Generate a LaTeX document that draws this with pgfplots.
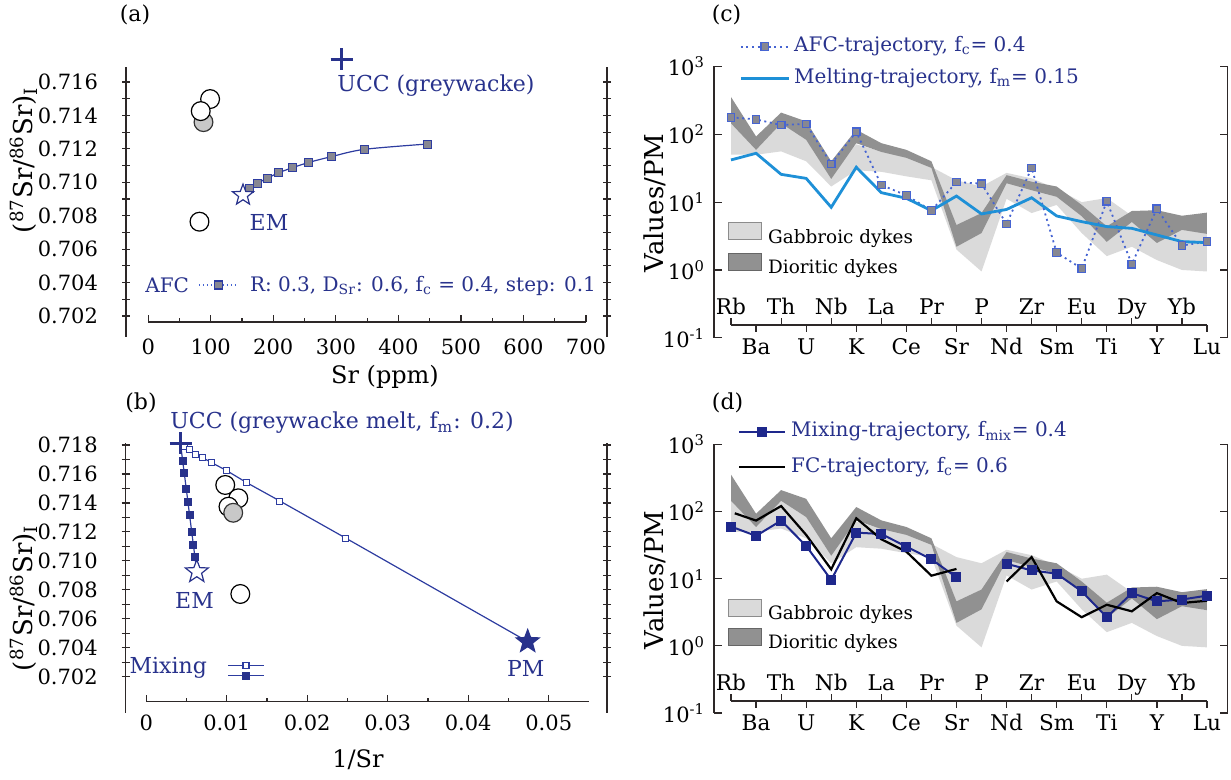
\documentclass[border=0pt]{standalone}
\usepackage{pgfplots}
\pgfplotsset{compat=1.18}
\usepackage{fontspec}
\setmainfont{DejaVu Serif}
\definecolor{navy}{RGB}{40,50,140}
\definecolor{lineblue}{RGB}{45,60,160}
\definecolor{afcblue}{RGB}{70,100,210}
\definecolor{afcgrey}{RGB}{135,135,145}
\definecolor{meltblue}{RGB}{30,144,215}
\definecolor{mixblue}{RGB}{30,40,140}
\definecolor{gabbro}{RGB}{218,218,218}
\definecolor{diorite}{RGB}{145,145,145}
\definecolor{axiscol}{RGB}{45,40,40}
\definecolor{circgrey}{RGB}{200,200,200}
\newcommand{\ticfont}{\fontsize{10.5}{12}\selectfont}
\newcommand{\labfont}{\fontsize{12}{14}\selectfont}
\newcommand{\ylabfont}{\fontsize{13}{15}\selectfont}
\newcommand{\catfont}{\fontsize{10.8}{12}\selectfont}
\newcommand{\legfont}{\fontsize{10}{12}\selectfont}
\newcommand{\annfont}{\fontsize{11}{13}\selectfont}
\newcommand{\dykfont}{\fontsize{9.2}{11}\selectfont}

\pgfdeclareplotmark{fivestar}{%
  \pgfpathmoveto{\pgfqpointpolar{90}{\pgfplotmarksize}}%
  \pgfpathlineto{\pgfqpointpolar{126}{0.42\pgfplotmarksize}}%
  \pgfpathlineto{\pgfqpointpolar{162}{\pgfplotmarksize}}%
  \pgfpathlineto{\pgfqpointpolar{198}{0.42\pgfplotmarksize}}%
  \pgfpathlineto{\pgfqpointpolar{234}{\pgfplotmarksize}}%
  \pgfpathlineto{\pgfqpointpolar{270}{0.42\pgfplotmarksize}}%
  \pgfpathlineto{\pgfqpointpolar{306}{\pgfplotmarksize}}%
  \pgfpathlineto{\pgfqpointpolar{342}{0.42\pgfplotmarksize}}%
  \pgfpathlineto{\pgfqpointpolar{18}{\pgfplotmarksize}}%
  \pgfpathlineto{\pgfqpointpolar{54}{0.42\pgfplotmarksize}}%
  \pgfpathclose
  \pgfusepathqfillstroke}

\pgfplotsset{
  mainax/.style={scale only axis, anchor=south west, clip=false,
    axis x line=none, axis y line=box, ytick align=center, yticklabel pos=left,
    scaled y ticks=false,
    axis line style={axiscol, line width=0.8pt},
    tick style={axiscol, line width=0.6pt},
    major tick length=4pt, minor tick length=4pt,
    /pgf/number format/assume math mode=true,
    yticklabel style={font=\ticfont, text=black},
    legend cell align=left},
  botax/.style={scale only axis, anchor=south west, height=5pt, ymin=0, ymax=1,
    axis y line=none, axis x line*=bottom, xtick align=inside, scaled x ticks=false,
    axis line style={axiscol, line width=0.8pt},
    tick style={axiscol, line width=0.6pt},
    major tick length=3.3pt, minor tick length=2pt,
    /pgf/number format/assume math mode=true,
    xticklabel style={font=\ticfont}},
  catax/.style={botax, xmin=0, xmax=19, width=238pt, xtick align=outside,
    xtick={1,3,...,19}, xticklabels={Ba,U,K,Ce,Sr,Nd,Sm,Ti,Y,Lu},
    extra x ticks={0,2,...,18},
    extra x tick labels={Rb,Th,Nb,La,Pr,P,Zr,Eu,Dy,Yb},
    xticklabel style={font=\catfont, anchor=base, yshift=-11.25pt},
    extra x tick style={tick style={yshift=3.5pt}, xticklabel style={yshift=19.75pt}},
    major tick length=3.5pt},
  logax/.style={mainax, ymin=0.1, ymax=1000, xmin=-0.679, xmax=19.82,
    width=256.75pt, ytick={0.1,1,10,100,1000},
    yticklabels={10\textsuperscript{-1},10\textsuperscript{0},10\textsuperscript{1},10\textsuperscript{2},10\textsuperscript{3}},
    yminorticks=false, ytick align=inside, yticklabel style={xshift=-1pt}},
  dykleg/.style={hide axis, scale only axis, anchor=south west, xmin=0, xmax=1, ymin=0, ymax=1,
    legend image code/.code={\draw[##1] (0pt,-0.95pt) rectangle (16.75pt,7.55pt);},
    legend cell align=left,
    legend style={anchor=west, draw=none, fill=none, inner sep=0pt, font=\dykfont,
      nodes={inner sep=0pt, text height=7pt, text depth=1.5pt},
      row sep=3.2pt, /tikz/every odd column/.append style={column sep=3pt}}},
}

\begin{document}
\begin{tikzpicture}[x=0.5pt,y=0.5pt]
\path[use as bounding box] (0,0) rectangle (1231,780);

% ================= panel (a) =================
\begin{axis}[mainax, at={(63pt,221.5pt)}, width=240.5pt, height=135pt,
  xmin=-35.5, xmax=733.6, ymin=0.70074, ymax=0.71690,
  ytick={0.702,0.704,0.706,0.708,0.710,0.712,0.714,0.716}, minor y tick num=1,
  yticklabel style={xshift=-8.5pt, /pgf/number format/.cd, fixed, fixed zerofill, precision=3},
  legend image code/.code={\draw[mark repeat=2,mark phase=2,#1] plot coordinates {(0pt,0pt) (9.85pt,0pt) (19.7pt,0pt)};},
  legend style={at={(0.1489,0.1926)}, anchor=west, draw=none, fill=none, inner sep=0pt,
    font=\legfont, text=navy, nodes={inner sep=0pt},
    /tikz/every odd column/.append style={column sep=5.5pt}}]
\addplot[forget plot, only marks, mark=*, mark size=4.7pt, mark options={fill=circgrey, draw=black!80, line width=0.6pt}]
  coordinates {(88.4,0.71360)};
\addplot[forget plot, only marks, mark=*, mark size=4.7pt, mark options={fill=white, draw=black, line width=0.6pt}]
  coordinates {(99,0.71498) (84,0.71426) (82,0.70764)};
\addplot[forget plot, lineblue, line width=0.6pt, smooth]
  coordinates {(151.6,0.70923) (162.4,0.70964) (175,0.70995) (190,0.71023) (208.5,0.71057) (230.6,0.71087) (257,0.71119) (292.5,0.71153) (345.5,0.71197) (446.6,0.71229)};
\addplot[forget plot, only marks, mark=square*, mark size=2pt, mark options={fill=afcgrey, draw=lineblue, line width=0.5pt}]
  coordinates {(162.4,0.70964) (175,0.70995) (190,0.71023) (208.5,0.71057) (230.6,0.71087) (257,0.71119) (292.5,0.71153) (345.5,0.71197) (446.6,0.71229)};
\addplot[forget plot, only marks, mark=fivestar, mark size=5.5pt, mark options={fill=white, draw=navy, line width=0.6pt}]
  coordinates {(151.6,0.70923)};
\addplot[forget plot, only marks, mark=+, mark size=5.5pt, mark options={draw=navy, line width=1.6pt}]
  coordinates {(309.4,0.71736)};
\addlegendimage{afcblue, dash pattern=on 0.8pt off 1.2pt, line width=0.8pt, mark=square*, mark size=2pt, mark options={solid, fill=afcgrey, draw=lineblue}}
\addlegendentry{R: 0.3, D\textsubscript{Sr}: 0.6, f\textsubscript{c} = 0.4, step: 0.1}
\end{axis}
\begin{axis}[botax, at={(74.1pt,229pt)}, width=218.9pt, xmin=0, xmax=700,
  xtick={0,100,...,700}, minor x tick num=1, xticklabel style={yshift=-5pt}]
\end{axis}
\node[font=\legfont, text=navy, anchor=east] at (196,495) {AFC};
\node[font=\annfont, text=navy] at (436,694) {UCC (greywacke)};
\node[font=\annfont, text=navy] at (269,558) {EM};
\node[font=\labfont] at (385,403) {Sr (ppm)};
\node[font=\ylabfont, rotate=90] at (24,620) {(\textsuperscript{87}Sr/\textsuperscript{86}Sr)\textsubscript{I}};
\node[font=\annfont] at (135,765) {(a)};

% ================= panel (b) =================
\begin{axis}[mainax, at={(62.85pt,33.5pt)}, width=240.65pt, height=135pt,
  xmin=-0.00254, xmax=0.05717, ymin=0.69949, ymax=0.71814,
  ytick={0.702,0.704,0.706,0.708,0.710,0.712,0.714,0.716,0.718}, minor y tick num=1,
  yticklabel style={xshift=-8.5pt, /pgf/number format/.cd, fixed, fixed zerofill, precision=3},
  legend image code/.code={\draw[mark repeat=2,mark phase=2,#1] plot coordinates {(0pt,0pt) (9pt,0pt) (18pt,0pt)};},
  legend style={at={(0.2105,0.1561)}, anchor=west, draw=none, fill=none, inner sep=0pt,
    nodes={inner sep=0pt}, row sep=2pt}]
\addplot[forget plot, lineblue, line width=0.6pt, mark=square*, mark size=1.5pt,
  mark options={fill=white, draw=lineblue, line width=0.5pt}, mark indices={2,3,4,5,6,7,8,9,10}]
  coordinates {(0.00428,0.71800) (0.00481,0.71788) (0.00543,0.71770) (0.00618,0.71736) (0.00701,0.71712) (0.00813,0.71678) (0.00999,0.71623) (0.01247,0.71540) (0.01660,0.71413) (0.02479,0.71156) (0.04733,0.70442)};
\addplot[forget plot, lineblue, line width=0.6pt, mark=square*, mark size=1.7pt,
  mark options={fill=navy, draw=navy}, mark indices={2,3,4,5,6,7,8,9}]
  coordinates {(0.00428,0.71800) (0.00453,0.71690) (0.00472,0.71609) (0.00498,0.71494) (0.00518,0.71408) (0.00538,0.71317) (0.00565,0.71201) (0.00586,0.71109) (0.00604,0.71029) (0.00628,0.70925)};
\addplot[forget plot, only marks, mark=*, mark size=4.7pt, mark options={fill=white, draw=black, line width=0.6pt}]
  coordinates {(0.00981,0.71524) (0.01143,0.71432) (0.01021,0.71374) (0.01168,0.70771)};
\addplot[forget plot, only marks, mark=*, mark size=4.7pt, mark options={fill=circgrey, draw=black!80, line width=0.6pt}]
  coordinates {(0.01080,0.71332)};
\addplot[forget plot, only marks, mark=fivestar, mark size=6pt, mark options={fill=white, draw=navy, line width=0.6pt}]
  coordinates {(0.00628,0.70925)};
\addplot[forget plot, only marks, mark=fivestar, mark size=6pt, mark options={fill=navy, draw=navy, line width=0.6pt}]
  coordinates {(0.04733,0.70442)};
\addplot[forget plot, only marks, mark=+, mark size=5.5pt, mark options={draw=navy, line width=1.6pt}]
  coordinates {(0.00428,0.71812)};
\addlegendimage{lineblue, line width=0.6pt, mark=square*, mark size=1.5pt, mark options={fill=white, draw=lineblue}}
\addlegendentry{}
\addlegendimage{lineblue, line width=0.6pt, mark=square*, mark size=1.7pt, mark options={fill=navy, draw=navy}}
\addlegendentry{}
\end{axis}
\begin{axis}[botax, at={(73.1pt,39.15pt)}, width=221.4pt, xmin=0, xmax=0.055,
  xtick={0,0.01,0.02,0.03,0.04,0.05}, minor x tick num=1,
  xticklabel style={yshift=-3.3pt, /pgf/number format/.cd, fixed, precision=2}]
\end{axis}
\node[font=\annfont, text=navy] at (342,357) {UCC (greywacke melt, f\textsubscript{m}: 0.2)};
\node[font=\annfont, text=navy] at (194.5,180) {EM};
\node[font=\annfont, text=navy] at (525.7,112) {PM};
\node[font=\annfont, text=navy, anchor=east] at (214,112) {Mixing};
\node[font=\labfont] at (358,20) {1/Sr};
\node[font=\ylabfont, rotate=90] at (24,182) {(\textsuperscript{87}Sr/\textsuperscript{86}Sr)\textsubscript{I}};
\node[font=\annfont] at (141,377) {(b)};

% ================= panel (c) =================
\begin{semilogyaxis}[logax, at={(357pt,221.1pt)}, height=135.65pt,
  unbounded coords=jump,
  legend image code/.code={\draw[mark repeat=2,mark phase=2,#1] plot coordinates {(0pt,0pt) (12pt,0pt) (24pt,0pt)};},
  legend style={at={(0.0487,1.0148)}, anchor=west, draw=none, fill=none, inner sep=0pt,
    font=\legfont, text=navy, nodes={inner sep=0pt, text height=7.5pt, text depth=2.5pt},
    row sep=5.8pt, /tikz/every odd column/.append style={column sep=2pt}}]
\addplot[forget plot, fill=gabbro, draw=none] coordinates {
 (0,200) (1,66) (2,158) (3,100) (4,28) (5,71) (6,56) (7,48) (8,33) (9,21) (10,17) (11,27) (12,22.4) (13,15.8) (14,10) (15,11.5) (16,6.3) (17,5.6) (18,4.0) (19,3.4)
 (19,0.95) (18,1.0) (17,1.4) (16,2.2) (15,1.6) (14,3.5) (13,9.1) (12,6.9) (11,11.2) (10,0.95) (9,2.0) (8,21) (7,24) (6,28) (5,29.5) (4,17) (3,40) (2,56) (1,50) (0,50)};
\addplot[forget plot, fill=diorite, draw=none] coordinates {
 (0,355) (1,93) (2,209) (3,155) (4,40) (5,117) (6,74) (7,59) (8,40) (9,4.6) (10,6.9) (11,25) (12,20) (13,17) (14,9.1) (15,4.4) (16,7.4) (17,7.6) (18,6.3) (19,7.0)
 (19,3.4) (18,3.9) (17,2.5) (16,5.1) (15,2.6) (14,6.2) (13,12) (12,15) (11,19) (10,3.5) (9,2.2) (8,32) (7,45) (6,55) (5,74) (4,22) (3,83) (2,145) (1,59) (0,145)};
\addplot[afcblue, dash pattern=on 1pt off 1.8pt, line width=0.9pt, mark=square*, mark size=1.9pt,
  mark options={solid, fill=afcgrey, draw=afcblue, line width=0.6pt}] coordinates {
 (0,178) (1,166) (2,137) (3,142) (4,36.6) (5,109) (6,17.9) (7,12.6) (8,7.5) (9,19.8) (10,18.7) (11,4.77) (12,31.9) (13,1.80) (14,1.05) (15,10.3) (16,1.22) (17,8.0) (18,2.29) (19,2.62)};
\addlegendentry{AFC-trajectory, f\textsubscript{c}= 0.4}
\addplot[meltblue, line width=1.4pt] coordinates {
 (0,41.9) (1,52.5) (2,25.7) (3,22.4) (4,8.4) (5,32.7) (6,13.8) (7,11.4) (8,7.5) (9,12.3) (10,6.7) (11,7.8) (12,11.6) (13,6.25) (14,5.16) (15,4.36) (16,4.11) (17,3.28) (18,2.62) (19,2.53)};
\addlegendentry{Melting-trajectory, f\textsubscript{m}= 0.15}
\end{semilogyaxis}
\begin{axis}[dykleg, at={(357pt,221.1pt)}, width=256.75pt, height=135.65pt,
  legend style={at={(0.0263,0.325)}}]
\addlegendimage{fill=gabbro, draw=black!45}
\addlegendentry{Gabbroic dykes}
\addlegendimage{fill=diorite, draw=black!60}
\addlegendentry{Dioritic dykes}
\end{axis}
\begin{axis}[catax, at={(365.5pt,227.5pt)}]
\end{axis}
\node[font=\ylabfont, rotate=90] at (655,577) {Values/PM};
\node[font=\annfont] at (726.5,765) {(c)};

% ================= panel (d) =================
\begin{semilogyaxis}[logax, at={(357pt,33.5pt)}, height=134.25pt,
  unbounded coords=jump,
  legend image code/.code={\draw[mark repeat=2,mark phase=2,#1] plot coordinates {(0pt,0pt) (11.45pt,0pt) (22.9pt,0pt)};},
  legend style={at={(0.0458,0.981)}, anchor=west, draw=none, fill=none, inner sep=0pt,
    font=\legfont, text=navy, nodes={inner sep=0pt, text height=7.5pt, text depth=2.5pt},
    row sep=7.8pt, /tikz/every odd column/.append style={column sep=2.6pt}}]
\addplot[forget plot, fill=gabbro, draw=none] coordinates {
 (0,200) (1,66) (2,158) (3,100) (4,28) (5,71) (6,56) (7,48) (8,33) (9,21) (10,17) (11,27) (12,22.4) (13,15.8) (14,10) (15,11.5) (16,6.3) (17,5.6) (18,4.0) (19,3.4)
 (19,0.95) (18,1.0) (17,1.4) (16,2.2) (15,1.6) (14,3.5) (13,9.1) (12,6.9) (11,11.2) (10,0.95) (9,2.0) (8,21) (7,24) (6,28) (5,29.5) (4,17) (3,40) (2,56) (1,50) (0,50)};
\addplot[forget plot, fill=diorite, draw=none] coordinates {
 (0,355) (1,93) (2,209) (3,155) (4,40) (5,117) (6,74) (7,59) (8,40) (9,4.6) (10,6.9) (11,25) (12,20) (13,17) (14,9.1) (15,4.4) (16,7.4) (17,7.6) (18,6.3) (19,7.0)
 (19,3.4) (18,3.9) (17,2.5) (16,5.1) (15,2.6) (14,6.2) (13,12) (12,15) (11,19) (10,3.5) (9,2.2) (8,32) (7,45) (6,55) (5,74) (4,22) (3,83) (2,145) (1,59) (0,145)};
\addplot[mixblue, line width=1pt, mark=square*, mark size=2pt, mark options={fill=mixblue, draw=mixblue}] coordinates {
 (0,59.9) (1,43.5) (2,73.5) (3,30.8) (4,9.6) (5,48.6) (6,46.4) (7,30.1) (8,19.5) (9,10.5) (10,nan) (11,16.7) (12,13.3) (13,11.9) (14,6.5) (15,2.67) (16,6.1) (17,4.6) (18,4.9) (19,5.6)};
\addlegendentry{Mixing-trajectory, f\textsubscript{mix}= 0.4}
\addplot[black, line width=1.1pt] coordinates {
 (0.15,94.4) (1,73.5) (2,121) (3,45) (4,13.8) (5,79.6) (6,38.7) (7,25.3) (8,11.1) (9,14.0) (10,nan) (11,9.1) (12,21) (13,4.6) (14,2.67) (15,4.1) (16,3.27) (17,6.1) (18,4.35) (19,4.7)};
\addlegendentry{FC-trajectory, f\textsubscript{c}= 0.6}
\end{semilogyaxis}
\begin{axis}[dykleg, at={(357pt,33.5pt)}, width=256.75pt, height=134.25pt,
  legend style={at={(0.0263,0.3266)}, row sep=2.7pt}]
\addlegendimage{fill=gabbro, draw=black!45}
\addlegendentry{Gabbroic dykes}
\addlegendimage{fill=diorite, draw=black!60}
\addlegendentry{Dioritic dykes}
\end{axis}
\begin{axis}[catax, at={(365.5pt,39.5pt)}]
\end{axis}
\node[font=\ylabfont, rotate=90] at (655,200) {Values/PM};
\node[font=\annfont] at (727.6,377) {(d)};
\end{tikzpicture}
\end{document}
